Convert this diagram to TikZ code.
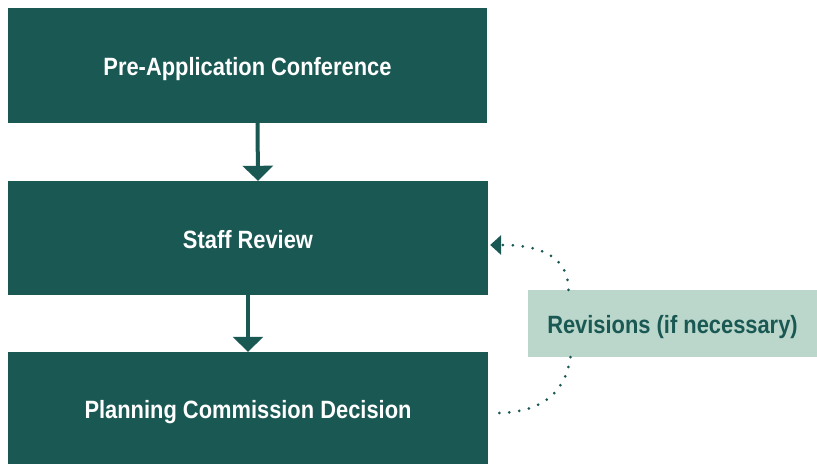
\documentclass[tikz,border=0pt]{standalone}
\usepackage{fontspec}
\setmainfont{Liberation Sans}[FakeStretch=0.875]
\usetikzlibrary{arrows.meta}
\definecolor{teal}{HTML}{1A5853}
\definecolor{mint}{HTML}{BBD7CB}
\tikzset{
  stepbox/.style={fill=teal,text=white,font=\fontsize{25}{28}\selectfont\bfseries,inner sep=0pt,text height=21pt,text depth=0pt},
  revbox/.style={fill=mint,text=teal,font=\fontsize{25}{28}\selectfont\bfseries,inner sep=0pt,text height=21pt,text depth=0pt},
  flow/.style={teal,line width=4pt,-{Triangle[width=30pt,length=15pt]}},
  loop/.style={teal,line width=3pt,line cap=round,dash pattern=on 0pt off 10pt}
}
\begin{document}
\begin{tikzpicture}[x=1pt,y=1pt]
    \useasboundingbox (0,0) rectangle (817,464);
    % process steps
    \node[stepbox,minimum width=479pt,minimum height=115pt] (pre) at (247.5,398.5) {Pre-Application Conference};
    \node[stepbox,minimum width=480pt,minimum height=114pt] (staff) at (248,226) {Staff Review};
    \node[stepbox,minimum width=480pt,minimum height=112pt] (plan) at (248,56) {Planning Commission Decision};
    \node[revbox,minimum width=289pt,minimum height=67pt] (rev) at (672.5,140.5) {Revisions (if necessary)};
    % forward arrows
    \draw[flow] ([xshift=10pt]pre.south) -- ([xshift=10pt]staff.north);
    \draw[flow] (staff.south) -- (plan.north);
    % revision loop
    \coordinate (back) at ([xshift=8pt,yshift=-5pt]plan.east);
    \draw[loop] ([xshift=-102pt]rev.south) .. controls +(-6,-40) and +(40,0) .. (back);
    \draw[loop] ([xshift=-104pt]rev.north) .. controls +(0,32) and +(40,0) .. ([xshift=14pt,yshift=-7pt]staff.east);
    \fill[teal] ([xshift=2pt,yshift=-7pt]staff.east) -- ++(11,10) -- ++(0,-20) -- cycle;
\end{tikzpicture}
\end{document}
